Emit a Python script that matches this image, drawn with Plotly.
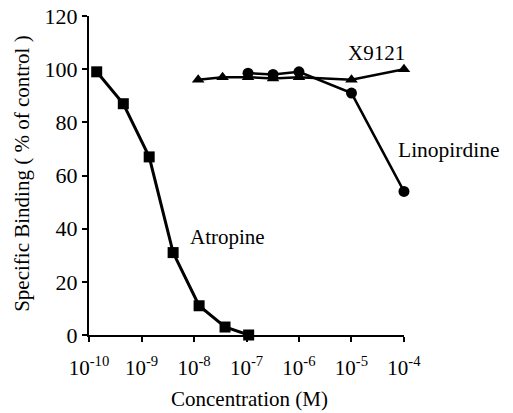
import plotly.graph_objects as go

atropine_x = [1.4e-10, 4.5e-10, 1.4e-9, 4.0e-9, 1.25e-8, 3.9e-8, 1.1e-7]
atropine_y = [99, 87, 67, 31, 11, 3, 0]

x9121_x = [1.2e-8, 3.5e-8, 1.07e-7, 3.2e-7, 1.0e-6, 1.0e-5, 1.0e-4]
x9121_y = [96, 97, 97, 96.5, 97, 96, 100]

lino_x = [1.07e-7, 3.2e-7, 1.0e-6, 1.0e-5, 1.0e-4]
lino_y = [98.5, 98, 99, 91, 54]

tick_vals = [1e-10, 1e-9, 1e-8, 1e-7, 1e-6, 1e-5, 1e-4]
tick_text = ["10<sup>-10</sup>", "10<sup>-9</sup>", "10<sup>-8</sup>", "10<sup>-7</sup>",
             "10<sup>-6</sup>", "10<sup>-5</sup>", "10<sup>-4</sup>"]
y_ticks = [0, 20, 40, 60, 80, 100, 120]

FONT = "Liberation Serif"

fig = go.Figure()
fig.add_trace(go.Scatter(x=atropine_x, y=atropine_y, mode="lines+markers",
                         line=dict(color="black", width=3),
                         marker=dict(symbol="square", size=11, color="black"),
                         cliponaxis=False, showlegend=False))
fig.add_trace(go.Scatter(x=x9121_x, y=x9121_y, mode="lines+markers",
                         line=dict(color="black", width=2.5),
                         marker=dict(symbol="triangle-up", size=11, color="black"),
                         cliponaxis=False, showlegend=False))
fig.add_trace(go.Scatter(x=lino_x, y=lino_y, mode="lines+markers",
                         line=dict(color="black", width=2.5),
                         marker=dict(symbol="circle", size=11, color="black"),
                         cliponaxis=False, showlegend=False))

fig.add_annotation(x=-8.12, y=37, text="Atropine", showarrow=False,
                   xanchor="left", yanchor="middle", font=dict(size=21))
fig.add_annotation(x=-5.1, y=106, text="X9121", showarrow=False,
                   xanchor="left", yanchor="middle", font=dict(size=21))
fig.add_annotation(x=-4.15, y=69.5, text="Linopirdine", showarrow=False,
                   xanchor="left", yanchor="middle", font=dict(size=21.5))

# axis titles placed as annotations
fig.add_annotation(xref="paper", yref="paper", x=0.511, y=-0.2, text="Concentration (M)",
                   showarrow=False, xanchor="center", yanchor="middle", font=dict(size=21))
fig.add_annotation(xref="paper", yref="paper", x=-0.213, y=0.505,
                   text="Specific Binding ( % of control )", textangle=-90,
                   showarrow=False, xanchor="center", yanchor="middle", font=dict(size=21))

fig.update_layout(
    width=513, height=413,
    margin=dict(l=89, r=109, t=16, b=78),
    paper_bgcolor="white", plot_bgcolor="white",
    font=dict(family=FONT, size=20, color="black"),
    xaxis=dict(type="log", range=[-10.0005, -3.9995], tickvals=tick_vals, ticktext=tick_text,
               showgrid=False, zeroline=False, showline=True, linecolor="black",
               linewidth=2, ticks="outside", ticklen=5, tickwidth=1.5, tickcolor="black",
               ticklabelstandoff=8,
               automargin=False, ticklabeloverflow="allow", tickfont=dict(size=21)),
    yaxis=dict(range=[0, 120], tickvals=y_ticks,
               showgrid=False, zeroline=False, showline=True, linecolor="black",
               linewidth=2, ticks="outside", ticklen=5, tickwidth=1.5, tickcolor="black",
               automargin=False, ticklabeloverflow="allow", tickfont=dict(size=22)),
)

fig.write_html("out.html", config={"displayModeBar": False},
               post_script="document.body.style.margin='0px';document.body.style.overflow='hidden';")
